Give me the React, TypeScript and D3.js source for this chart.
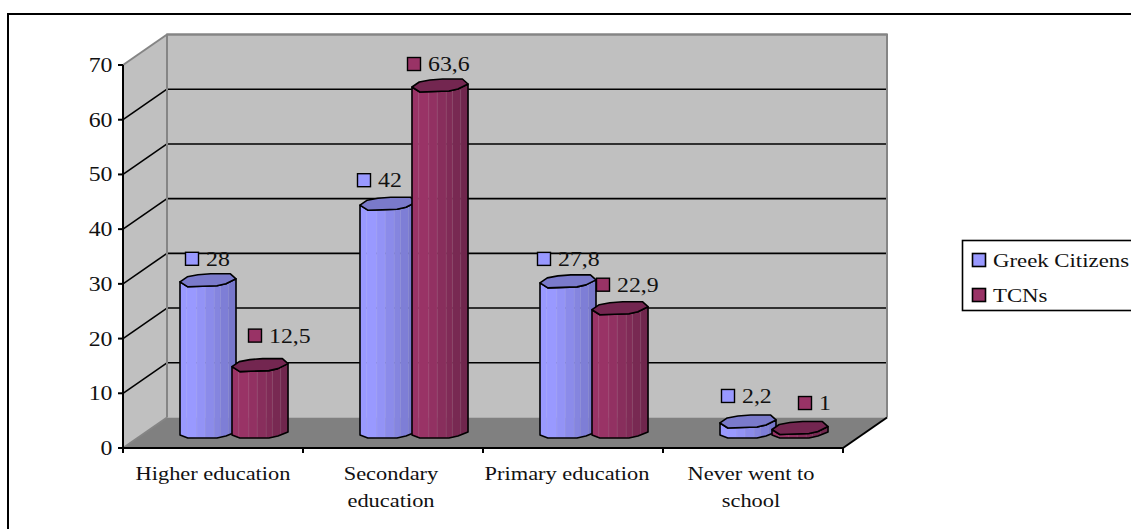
import React from "react";
import * as d3 from "d3";

// Chart content
const categories = [
  ["Higher education"],
  ["Secondary", "education"],
  ["Primary education"],
  ["Never went to", "school"],
];
const greekCitizens = [28, 42, 27.8, 2.2];
const tcns = [12.5, 63.6, 22.9, 1];
const yTicks = [0, 10, 20, 30, 40, 50, 60, 70];
const seriesNames = ["Greek Citizens", "TCNs"];

// Layout of the oblique plot box
const frontLeft = 123;
const frontRight = 843;
const frontBase = 448;
const frontTop = 65;
const depthX = 44;
const depthY = -30.5;
const barWidth = 56;
const barInset = 57;
const barStep = 52;
const barLift = 13;

// Hand placement of the value labels, relative to each bar's left edge and top
const greekLabelShift = [[12, -23], [4, -25], [4, -24], [8, -27]];
const tcnLabelShift = [[23, -31], [2, -23], [11, -25], [33, -26.5]];
const categoryNudge = [0, -2, -6, -2];

const palette = {
  wall: "#c0c0c0",
  floor: "#808080",
  edge: "#858585",
  greek: ["#9999ff", "#7474c6", "#7a7acb"],
  tcn: ["#993366", "#6c254b", "#732650"],
};

// Fractions across a bar where the cylinder's flat facets meet
const facetStops = [0, 0.12, 0.3, 0.45, 0.61, 0.72, 0.87, 1];

// Outline of a bar cap, as [fraction across, vertical offset]
const capBack: [number, number][] = [[0, 0], [0.13, -5], [0.32, -7], [0.55, -8], [0.9, -8], [1, -3]];
const capFront: [number, number][] = [[1, -3], [0.82, 2], [0.66, 4], [0.14, 5], [0, 0]];
const baseFront: [number, number][] = [[1, -3], [0.82, 1], [0.66, 3], [0.14, 3], [0, 0]];

const fontFamily = "'Liberation Serif', serif";

const y = d3.scaleLinear().domain([0, 70]).range([frontBase, frontTop]);
const x = d3.scaleBand<number>().domain(d3.range(categories.length)).range([frontLeft, frontRight]);
const closed = d3.line<[number, number]>().curve(d3.curveLinearClosed);

// The labels are set wider than the typeface's natural proportions
function Wide({ x: tx, y: ty, size, anchor = "start", stretch = 1.19, children }: any) {
  return (
    <text transform={`translate(${tx},${ty}) scale(${stretch},1)`} fontSize={size} textAnchor={anchor} fill="#111">
      {children}
    </text>
  );
}

function offsetAlong(f: number, pts: [number, number][]) {
  const ordered = pts.slice().reverse();
  return d3.scaleLinear().domain(ordered.map((p) => p[0])).range(ordered.map((p) => p[1]))(f);
}

function Bar({ left, value, colors }: { left: number; value: number; colors: string[] }) {
  const top = y(value) - barLift;
  const base = frontBase - barLift;
  const at = (pts: [number, number][], level: number): [number, number][] =>
    pts.map(([f, dy]) => [left + f * barWidth, level + dy]);
  const shade = d3.scaleLinear<string>().domain([0.25, 1]).range([colors[0], colors[1]]).clamp(true);
  const body = [...at(capFront, top), ...at(baseFront.slice().reverse(), base)];
  return (
    <g>
      {facetStops.slice(0, -1).map((f0, i) => {
        const f1 = facetStops[i + 1];
        const facet: [number, number][] = [
          [left + f0 * barWidth, top + offsetAlong(f0, capFront)],
          [left + f1 * barWidth, top + offsetAlong(f1, capFront)],
          [left + f1 * barWidth, base + offsetAlong(f1, baseFront)],
          [left + f0 * barWidth, base + offsetAlong(f0, baseFront)],
        ];
        const tone = shade((f0 + f1) / 2);
        return <path key={i} d={closed(facet)!} fill={tone} stroke={tone} strokeWidth={0.4} />;
      })}
      {facetStops.slice(1, -1).map((f) => (
        <line
          key={f}
          x1={left + f * barWidth}
          x2={left + f * barWidth}
          y1={top + offsetAlong(f, capFront)}
          y2={base + offsetAlong(f, baseFront)}
          stroke="#fff"
          strokeOpacity={0.1}
        />
      ))}
      <path d={closed(body)!} fill="none" stroke="#000" strokeWidth={1.6} strokeLinejoin="round" />
      <path d={closed(at([...capBack, ...capFront.slice(1)], top))!} fill={colors[2]} stroke="#000" strokeWidth={1.6} strokeLinejoin="round" />
    </g>
  );
}

function ValueLabel({ left, value, fill, shift }: { left: number; value: number; fill: string; shift: number[] }) {
  const cx = left + shift[0];
  const cy = y(value) - barLift + shift[1];
  return (
    <g>
      <rect x={cx - 6.5} y={cy - 6.5} width={13} height={13} fill={fill} stroke="#000" strokeWidth={1.4} />
      <Wide x={cx + 14} y={cy + 7} size={20}>{String(value).replace(".", ",")}</Wide>
    </g>
  );
}

export default function App() {
  const backLeft = frontLeft + depthX;
  const backRight = frontRight + depthX;
  const backBase = frontBase + depthY;
  const backTop = frontTop + depthY;
  return (
    <svg
      width={1131}
      height={529}
      style={{ position: "absolute", left: 0, top: 0, background: "#fff" }}
      fontFamily={fontFamily}
    >
      <rect x={8} y={14} width={1130} height={520} fill="#fff" stroke="#000" strokeWidth={2} />

      {/* walls and floor */}
      <path d={closed([[frontLeft, frontBase], [backLeft, backBase], [backLeft, backTop], [frontLeft, frontTop]])!} fill={palette.wall} />
      <rect x={backLeft} y={backTop} width={backRight - backLeft} height={backBase - backTop} fill={palette.wall} />
      <path d={closed([[frontLeft, frontBase], [frontRight, frontBase], [backRight, backBase], [backLeft, backBase]])!} fill={palette.floor} />

      {/* gridlines across both walls */}
      {yTicks.map((t) => {
        const gy = y(t);
        const outer = t === 0 || t === 70;
        return (
          <g key={t} stroke={outer ? palette.edge : "#000"} strokeWidth={outer ? 2 : 1.6}>
            {t > 0 && <line x1={backLeft} x2={backRight} y1={gy + depthY} y2={gy + depthY} />}
            <line x1={frontLeft} x2={backLeft} y1={gy} y2={gy + depthY} />
          </g>
        );
      })}
      <path d={`M${backLeft},${backBase}V${backTop}H${backRight}V${backBase}`} fill="none" stroke={palette.edge} strokeWidth={2} />

      {/* front axes */}
      <g stroke="#000" strokeWidth={2}>
        <line x1={frontLeft} x2={frontLeft} y1={frontTop} y2={frontBase} />
        <line x1={frontLeft} x2={frontRight} y1={frontBase} y2={frontBase} />
        <line x1={frontRight} x2={backRight} y1={frontBase} y2={backBase} />
        {yTicks.map((t) => <line key={t} x1={frontLeft - 5} x2={frontLeft} y1={y(t)} y2={y(t)} />)}
        {d3.range(categories.length + 1).map((i) => {
          const tx = frontLeft + i * x.step();
          return <line key={i} x1={tx} x2={tx} y1={frontBase} y2={frontBase + 5} />;
        })}
      </g>
      {yTicks.map((t) => <Wide key={t} x={112.5} y={y(t) + 7} size={20} anchor="end">{t}</Wide>)}
      {categories.map((lines, i) => {
        const cx = x(i)! + x.bandwidth() / 2 + categoryNudge[i];
        return lines.map((l, j) => (
          <Wide key={l} x={cx} y={480 + j * 27} size={19} anchor="middle" stretch={1.18}>{l}</Wide>
        ));
      })}

      {/* bars: each group's TCN cylinder sits over its Greek one */}
      {categories.map((_, i) => {
        const left = x(i)! + barInset;
        return (
          <g key={i}>
            <Bar left={left} value={greekCitizens[i]} colors={palette.greek} />
            <Bar left={left + barStep} value={tcns[i]} colors={palette.tcn} />
          </g>
        );
      })}
      {categories.map((_, i) => {
        const left = x(i)! + barInset;
        return (
          <g key={i}>
            <ValueLabel left={left} value={greekCitizens[i]} fill={palette.greek[0]} shift={greekLabelShift[i]} />
            <ValueLabel left={left + barStep} value={tcns[i]} fill={palette.tcn[0]} shift={tcnLabelShift[i]} />
          </g>
        );
      })}

      {/* legend */}
      <rect x={962.5} y={240.5} width={200} height={70} fill="#fff" stroke="#000" strokeWidth={1.6} />
      {seriesNames.map((name, i) => (
        <g key={name}>
          <rect x={972.5} y={253.5 + i * 35} width={13} height={13} fill={i === 0 ? palette.greek[0] : palette.tcn[0]} stroke="#000" strokeWidth={1.6} />
          <Wide x={993} y={267 + i * 35} size={19} stretch={1.2}>{name}</Wide>
        </g>
      ))}
    </svg>
  );
}
